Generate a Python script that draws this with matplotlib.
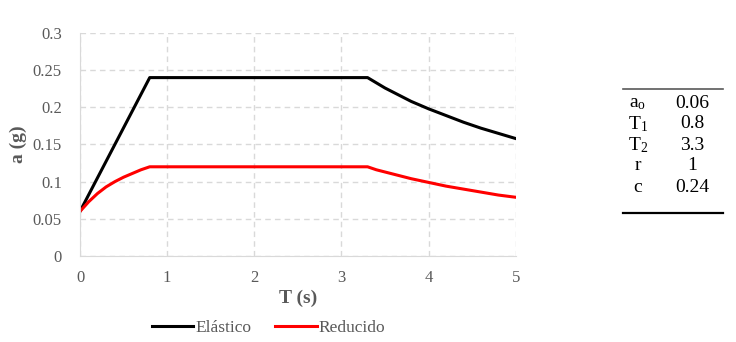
import numpy as np
import matplotlib
matplotlib.use('Agg')
import matplotlib.pyplot as plt
from matplotlib.lines import Line2D

plt.rcParams['font.family'] = ['Liberation Serif', 'DejaVu Serif']
plt.rcParams['mathtext.fontset'] = 'stix'

# spectrum
T_el = [0, 0.8, 3.3, 3.4, 3.5, 3.6, 3.8, 4.0, 4.2, 4.4, 4.6, 4.8, 5.0]
a_el = [0.06, 0.24, 0.24, 0.233, 0.226, 0.22, 0.208, 0.198, 0.189, 0.18, 0.172, 0.165, 0.158]

T_red = [0, 0.1, 0.2, 0.3, 0.4, 0.5, 0.6, 0.7, 0.8, 3.3, 3.4, 3.5, 3.6, 3.8,
         4.0, 4.2, 4.4, 4.6, 4.8, 5.0]
a_red = [0.06, 0.073, 0.084, 0.093, 0.100, 0.106, 0.111, 0.116, 0.12, 0.12,
         0.116, 0.113, 0.11, 0.104, 0.099, 0.094, 0.09, 0.086, 0.082, 0.079]

param_names = [r'a$_\mathregular{o}$', r'T$_\mathregular{1}$', r'T$_\mathregular{2}$', 'r', 'c']
param_values = ['0.06', '0.8', '3.3', '1', '0.24']

grey = '#595959'
gridc = '#d9d9d9'

fig = plt.figure(figsize=(7.36, 3.42), dpi=100)
ax = fig.add_axes([0.1087, 0.2515, 0.592, 0.652])

ax.plot(T_el, a_el, color='black', lw=2.2, label='Elástico')
ax.plot(T_red, a_red, color='#ff0000', lw=2.2, label='Reducido')

ax.set_xlim(0, 5)
ax.set_ylim(0, 0.3)
ax.set_xticks(np.arange(0, 6, 1))
ax.set_yticks(np.arange(0, 0.31, 0.05))
ax.set_yticklabels(['0', '0.05', '0.1', '0.15', '0.2', '0.25', '0.3'])
ax.grid(True, color=gridc, linestyle=(0, (4, 3)), lw=1)
ax.set_axisbelow(True)
for s in ['top', 'right']:
    ax.spines[s].set_visible(False)
for s in ['left', 'bottom']:
    ax.spines[s].set_color(gridc)
ax.tick_params(length=0, labelsize=12, colors=grey)
ax.tick_params(axis='y', pad=13)
ax.tick_params(axis='x', pad=10)
ax.set_xlabel('T (s)', fontsize=14, fontweight='bold', color=grey, labelpad=3)
ax.set_ylabel('a (g)', fontsize=14, fontweight='bold', color=grey, labelpad=4)

handles = [Line2D([], [], color='black', lw=2.2), Line2D([], [], color='#ff0000', lw=2.2)]
fig.legend(handles, ['Elástico', 'Reducido'], loc='center', bbox_to_anchor=(0.365, 0.04),
           ncol=2, frameon=False, fontsize=12.5, labelcolor=grey, handlelength=2.4,
           handletextpad=0.1, columnspacing=1.4)

# parameter table
x0, x1 = 623 / 736, 723 / 736
fig.add_artist(Line2D([x0, x1], [1 - 89 / 342] * 2, color=grey, lw=1.2))
fig.add_artist(Line2D([x0, x1], [1 - 213 / 342] * 2, color='black', lw=1.6))
row_y = [103, 124, 145, 166, 187]
for name, val, y in zip(param_names, param_values, row_y):
    fig.text(638 / 736, 1 - y / 342, name, ha='center', va='center', fontsize=14, color='black')
    fig.text(692 / 736, 1 - y / 342, val, ha='center', va='center', fontsize=14, color='black')

fig.savefig('out.png', dpi=100)
